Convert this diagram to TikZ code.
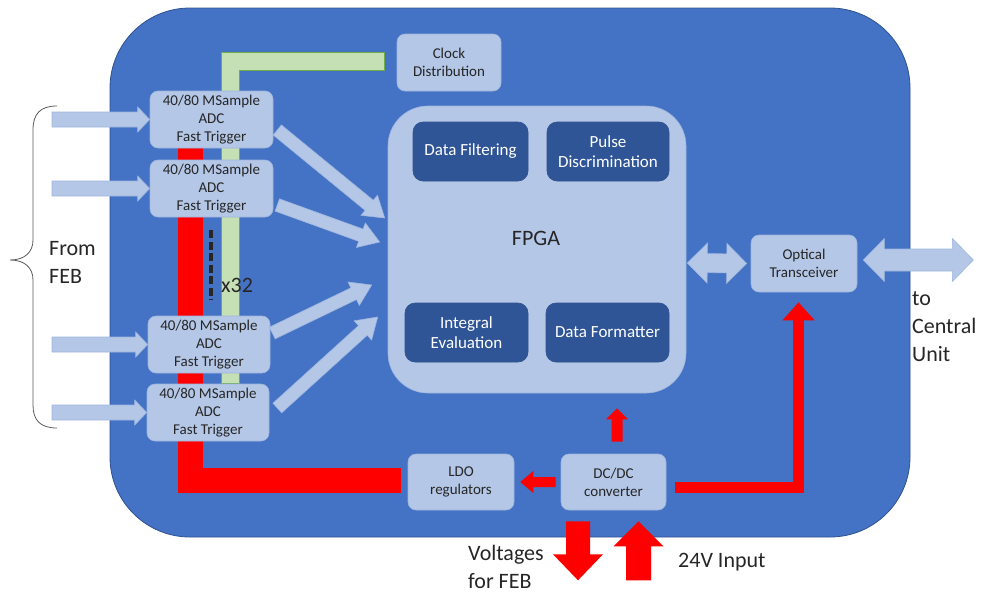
\documentclass[tikz,border=0pt]{standalone}
\usepackage{fontspec}
\setmainfont{Carlito}
\usetikzlibrary{calc,arrows.meta,backgrounds}
\definecolor{board}{HTML}{4472C4}
\definecolor{boardline}{HTML}{2F528F}
\definecolor{block}{HTML}{B4C7E7}
\definecolor{blockline}{HTML}{9DB5DE}
\definecolor{core}{HTML}{2F5597}
\definecolor{clk}{HTML}{C5E0B4}
\definecolor{clkline}{HTML}{70AD47}
\definecolor{power}{HTML}{FF0000}
\definecolor{ink}{HTML}{262626}
\definecolor{bracecol}{HTML}{595959}

\newcommand\boxfont{\fontsize{15}{18}\selectfont}
\newcommand\corefont{\fontsize{17}{20}\selectfont}
\newcommand\bigfont{\fontsize{22}{28}\selectfont}

% block arrow: [style]{from}{to}{shaft half width}{head half width}{head length}
\newcommand\fatarrow[6][]{%
  \coordinate (fa-h) at ($(#3)!#6!(#2)$);
  \draw[#1] ($(#2)!#4!90:(#3)$) -- ($(fa-h)!#4!90:(#3)$) -- ($(fa-h)!#5!90:(#3)$)
    -- (#3) -- ($(fa-h)!#5!-90:(#3)$) -- ($(fa-h)!#4!-90:(#3)$) -- ($(#2)!#4!-90:(#3)$) -- cycle;}
\newcommand\fatdarrow[6][]{%
  \coordinate (fa-a) at ($(#2)!#6!(#3)$);
  \coordinate (fa-b) at ($(#3)!#6!(#2)$);
  \draw[#1] (#2) -- ($(fa-a)!#5!90:(#3)$) -- ($(fa-a)!#4!90:(#3)$) -- ($(fa-b)!#4!90:(#3)$)
    -- ($(fa-b)!#5!90:(#3)$) -- (#3) -- ($(fa-b)!#5!-90:(#3)$) -- ($(fa-b)!#4!-90:(#3)$)
    -- ($(fa-a)!#4!-90:(#3)$) -- ($(fa-a)!#5!-90:(#3)$) -- cycle;}

\begin{document}
\begin{tikzpicture}[x=1pt, y=-1pt, font=\boxfont, text=ink,
  unit/.style={rounded corners=8pt, fill=block, draw=blockline, line width=.6pt, align=center, inner sep=0pt},
  stage/.style={rounded corners=10pt, fill=core, draw=boardline, line width=.6pt, text=white, font=\corefont,
    align=center, inner sep=0pt, minimum width=123pt, minimum height=59pt},
  flow/.style={fill=block, draw=blockline, line width=.6pt},
  feed/.style={fill=power, draw=none},
  caption/.style={font=\bigfont, align=left, inner sep=0pt}]
  \useasboundingbox (0,0) rectangle (987,597);

  \node[unit, minimum width=104pt, minimum height=57pt] (clock) at (449,62.5) {Clock\\Distribution};
  \node[unit, rounded corners=40pt, minimum width=298pt, minimum height=287pt] (fpga) at (537,249.5) {};
  \node[font=\bigfont] (fpgalabel) at (536,238) {FPGA};
  \node[stage, minimum width=115pt] (filt) at (470.5,151.5) {Data Filtering};
  \node[stage, minimum width=122pt] (pulse) at (608,151.5) {Pulse\\Discrimination};
  \node[stage] (integ) at (466.5,332.5) {Integral\\Evaluation};
  \node[stage] (fmt) at (607.5,332.5) {Data Formatter};
  \node[unit, minimum width=106pt, minimum height=57pt] (optical) at (804,263.5) {Optical\\Transceiver};
  \node[unit, minimum width=106pt, minimum height=56pt] (ldo) at (461,482) {LDO\\regulators};
  \node[unit, minimum width=105pt, minimum height=56pt] (dcdc) at (613.5,482) {DC/DC\\converter};
  \foreach \n/\x/\y/\w in {1/211.5/119.5/123, 2/211.5/188.5/123, 3/209/344.5/122, 4/208/412.5/122}
    \node[unit, minimum width=\w pt, minimum height=57pt] (adc\n) at (\x,\y) {40/80 MSample\\ADC\\Fast Trigger};

  \begin{scope}[on background layer]
    \draw[fill=board, draw=boardline, line width=.8pt, rounded corners=80pt] (110,8) rectangle (910,537);
    \draw[fill=clk, draw=clkline, line width=.8pt] ($(clock.west)+(-12,-10.5)$) -| ($(adc4.north)+(13,0)$)
      -- ++(18,0) |- ($(clock.west)+(-12,7.5)$) -- cycle;
    \draw[power, line width=25pt, line join=miter] ($(ldo.west)+(-7,-1.5)$) -| ($(adc1.south)+(-21,0)$);
  \end{scope}

  \draw[ink, line width=3.5pt, dash pattern=on 8pt off 3.5pt] (211,230) -- (211,300);
  \node[font=\bigfont, anchor=base west, inner sep=0pt] (mult) at (221,292) {x32};

  \foreach \n in {1,...,4} {
    \coordinate (in\n) at (52,0 |- adc\n.west);
    \fatarrow[flow]{in\n}{adc\n.west}{7.5pt}{12.5pt}{12pt}
  }
  \foreach \n/\tx/\ty/\fx/\fy in {1/4/10.5/-3/-31.5, 2/4/16.5/-8/-7.5, 3/2/-11.5/-16/35.5, 4/8/-4.5/-10/67.5} {
    \coordinate (t\n) at ($(adc\n.east)+(\tx,\ty)$);
    \coordinate (f\n) at ($(fpga.west)+(\fx,\fy)$);
    \fatarrow[flow]{t\n}{f\n}{6.5pt}{13pt}{20pt}
  }
  \coordinate (fo1) at ($(fpga.east)+(1,13.5)$);
  \coordinate (fo2) at ($(optical.west)+(-4,0)$);
  \fatdarrow[flow]{fo1}{fo2}{9.5pt}{20pt}{20pt}
  \coordinate (oo1) at ($(optical.east)+(6,-3.5)$);
  \coordinate (oo2) at ($(oo1)+(110,0)$);
  \fatdarrow[flow]{oo1}{oo2}{11pt}{21.5pt}{21pt}

  \coordinate (dl1) at ($(dcdc.west)+(-5,0)$);
  \coordinate (dl2) at ($(ldo.east)+(6,0)$);
  \fatarrow[feed]{dl1}{dl2}{5pt}{11pt}{13pt}
  \coordinate (du1) at ($(dcdc.north)+(3.5,-12)$);
  \coordinate (du2) at ($(fpga.south)+(80,15)$);
  \fatarrow[feed]{du1}{du2}{5.5pt}{11pt}{11pt}
  \coordinate (vf1) at ($(dcdc.south)+(-35.5,11)$);
  \coordinate (vf2) at ($(vf1)+(0,59)$);
  \fatarrow[feed]{vf1}{vf2}{12pt}{25pt}{26pt}
  \coordinate (vin2) at ($(dcdc.south)+(25,11)$);
  \coordinate (vin1) at ($(vin2)+(0,59)$);
  \fatarrow[feed]{vin1}{vin2}{12.5pt}{25pt}{25pt}
  \draw[power, line width=11pt, line join=miter, -{Triangle[width=31pt,length=18pt]}]
    ($(dcdc.east)+(9,5)$) -| ($(optical.south)+(-5.5,10)$);

  \draw[bracecol, line width=.8pt] (57,106) .. controls (40,106) and (33,114) .. (33,130) -- (33,240)
    .. controls (33,252) and (25,260) .. (10,260) .. controls (25,260) and (33,268) .. (33,280)
    -- (33,405) .. controls (33,420) and (40,428) .. (57,428);

  \node[caption, anchor=base west] (feb) at (49,283) {From\\FEB};
  \node[caption, anchor=base west] (central) at (912,361) {to\\Central\\Unit};
  \node[caption, anchor=base west] (feblv) at (468,588) {Voltages\\for FEB};
  \node[caption, anchor=base west] (supply) at (678,567) {24V Input};
\end{tikzpicture}
\end{document}
